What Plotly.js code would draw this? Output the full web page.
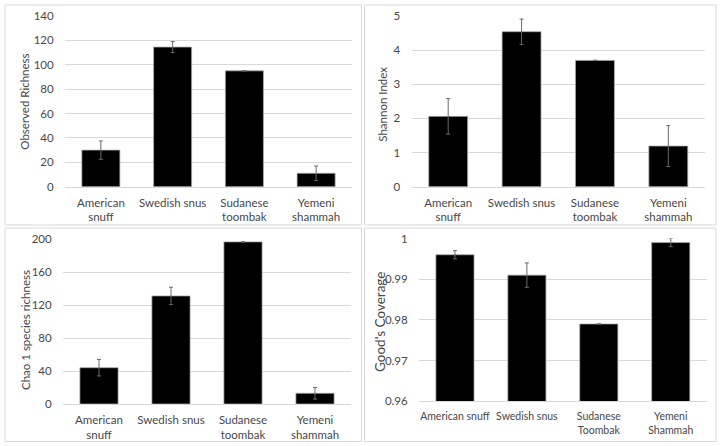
<!DOCTYPE html>
<html>
<head>
<meta charset="utf-8">
<script src="https://cdn.plot.ly/plotly-3.0.1.min.js"></script>
<style>html,body{margin:0;padding:0;background:#fff}#chart{width:720px;height:446px}</style>
</head>
<body>
<div id="chart"></div>
<script>
// ---- data ----
const categoriesTop = ["American<br>snuff", "Swedish snus", "Sudanese<br>toombak", "Yemeni<br>shammah"];
const categoriesGoods = ["American snuff", "Swedish snus", "Sudanese<br>Toombak", "Yemeni<br>Shammah"];

const observedRichness = [30, 114.5, 95, 11];
const observedRichnessErr = [7.5, 4.5, null, 6];

const shannonIndex = [2.06, 4.54, 3.7, 1.19];
const shannonIndexErr = [0.52, 0.37, null, 0.6];

const chao1Richness = [44, 131, 196.5, 13];
const chao1RichnessErr = [10, 10.5, null, 7];

const goodsCoverage = [0.996, 0.991, 0.979, 0.999];
const goodsCoverageErr = [0.001, 0.003, null, 0.001];

const titles = ["Observed Richness", "Shannon Index", "Chao 1 species richness", "Good's Coverage"];

// ---- layout helpers ----
const W = 720, H = 446;
const fx = p => p / W;
const fy = p => 1 - p / H;
const FONT = "Lato, 'Liberation Sans', sans-serif";
const TXT = "#474747";
const GRID = "#d9d9d9";

function barTrace(x, y, err, xa, ya) {
  return {
    type: "bar", x: x, y: y, xaxis: xa, yaxis: ya,
    width: 0.53,
    marker: {color: "#000000", line: {color: "#a6a6a6", width: 0.75}},
    error_y: {type: "data", array: err, visible: true, color: "#6a6a6a", thickness: 1, width: 2},
    hoverinfo: "x+y", showlegend: false
  };
}

const data = [
  barTrace(categoriesTop, observedRichness, observedRichnessErr, "x", "y"),
  barTrace(categoriesTop, shannonIndex, shannonIndexErr, "x2", "y2"),
  barTrace(categoriesTop, chao1Richness, chao1RichnessErr, "x3", "y3"),
  barTrace(categoriesGoods, goodsCoverage, goodsCoverageErr, "x4", "y4")
];

function xAxis(dom, anchor, size) {
  return {domain: dom, anchor: anchor, type: "category", showgrid: false, showline: true,
    linecolor: GRID, linewidth: 1, ticks: "outside", ticklen: 5, tickcolor: "rgba(0,0,0,0)",
    tickfont: {family: FONT, size: size, color: TXT}, fixedrange: true};
}
function yAxis(dom, anchor, range, dtick) {
  return {domain: dom, anchor: anchor, range: range, dtick: dtick, tick0: range[0],
    showgrid: true, gridcolor: GRID, gridwidth: 1, zeroline: false, showline: false,
    ticks: "outside", ticklen: 8, tickcolor: "rgba(0,0,0,0)",
    tickfont: {family: FONT, size: 11.5, color: TXT}, fixedrange: true};
}

const panels = [[5, 5, 361.5, 225], [364.5, 5, 716, 225], [5, 228, 361.5, 441.5], [364.5, 228, 716, 441.5]];
const shapes = panels.map(p => ({type: "rect", xref: "paper", yref: "paper",
  x0: fx(p[0]), x1: fx(p[2]), y0: fy(p[3]), y1: fy(p[1]), line: {color: GRID, width: 1}, layer: "below"}));

const titlePos = [[25, 101.7, 11.5], [381.7, 104, 11.5], [25, 330, 11.5], [380, 322, 13.5]];
const annotations = titles.map((t, i) => ({text: t, xref: "paper", yref: "paper",
  x: fx(titlePos[i][0]), y: fy(titlePos[i][1]), xanchor: "center", yanchor: "middle",
  textangle: -90, showarrow: false, font: {family: FONT, size: titlePos[i][2], color: TXT}}));

const layout = {
  width: W, height: H, margin: {l: 0, r: 0, t: 0, b: 0},
  paper_bgcolor: "#ffffff", plot_bgcolor: "rgba(0,0,0,0)",
  font: {family: FONT, color: TXT},
  xaxis: xAxis([fx(65), fx(352)], "y", 11.5),
  yaxis: yAxis([fy(186.7), fy(16)], "x", [0, 140], 20),
  xaxis2: xAxis([fx(411.5), fx(705)], "y2", 11.5),
  yaxis2: yAxis([fy(186.7), fy(16)], "x2", [0, 5], 1),
  xaxis3: xAxis([fx(63), fx(351)], "y3", 11.5),
  yaxis3: yAxis([fy(404), fy(239)], "x3", [0, 200], 40),
  xaxis4: xAxis([fx(419), fx(706.7)], "y4", 10.5),
  yaxis4: yAxis([fy(401.3), fy(238.5)], "x4", [0.96, 1], 0.01),
  shapes: shapes, annotations: annotations
};

Plotly.newPlot("chart", data, layout, {displayModeBar: false, staticPlot: true});
</script>
</body>
</html>
